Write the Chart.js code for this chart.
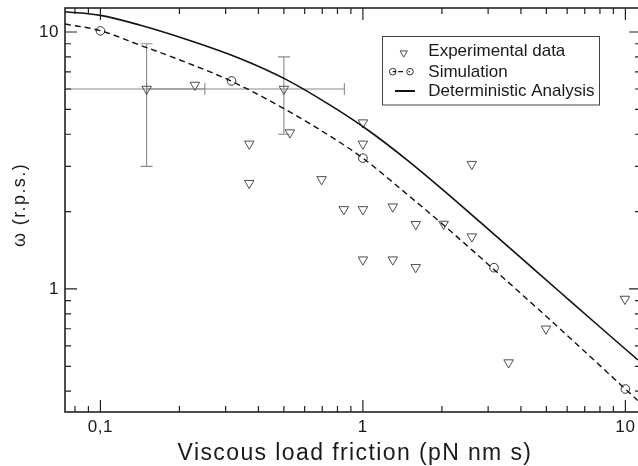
<!DOCTYPE html>
<html>
<head>
<meta charset="utf-8">
<script src="https://cdn.jsdelivr.net/npm/chart.js@4.4.1/dist/chart.umd.min.js"></script>
<style>
html,body{margin:0;padding:0;background:#fff;overflow:hidden;width:638px;height:466px}
canvas{display:block}
</style>
</head>
<body>
<canvas id="c" width="638" height="466"></canvas>
<script>
// ---- data ----
const expX = [0.15, 0.229, 0.369, 0.369, 0.5, 0.527, 0.696, 0.846, 1.0, 1.0, 1.0, 1.0, 1.30, 1.30, 1.59, 1.59, 2.03, 2.60, 2.60, 3.59, 4.98, 9.96];
const expY = [6.0, 6.22, 3.67, 2.58, 6.0, 4.06, 2.67, 2.04, 4.44, 3.67, 2.04, 1.30, 2.09, 1.30, 1.785, 1.214, 1.79, 3.06, 1.598, 0.517, 0.70, 0.914];

const errX     = [0.15, 0.5];
const errY     = [6.0, 6.0];
const errXLow  = [0.05, 0.15];
const errXHigh = [0.25, 0.85];
const errYLow  = [3.0, 4.0];
const errYHigh = [9.0, 8.0];

const simX = [0.1, 0.316, 1.0, 3.16, 10.0];
const simY = [10.1, 6.45, 3.23, 1.21, 0.408];

const simCurveX = [0.0733, 0.1, 0.141, 0.201, 0.314, 0.496, 0.769, 1.0, 1.47, 1.97, 2.62, 3.13, 4.44, 6.31, 9.87, 11.16];
const simCurveY = [10.74, 10.12, 8.90, 7.78, 6.45, 5.06, 3.87, 3.23, 2.34, 1.82, 1.41, 1.20, 0.872, 0.629, 0.413, 0.368];

const detX = [0.0733, 0.1, 0.141, 0.219, 0.34, 0.509, 0.769, 1.063, 1.471, 2.018, 2.791, 3.964, 5.631, 8.0, 11.16];
const detY = [11.99, 11.61, 10.65, 9.27, 7.89, 6.54, 5.11, 4.10, 3.18, 2.43, 1.823, 1.332, 0.973, 0.711, 0.529];

const xRange = [0.0733, 11.17];
const yRange = [0.332, 12.4];
const xTickValues = [0.1, 1, 10];
const xTickLabels = ['0,1', '1', '10'];
const yTickValues = [1, 10];
const yTickLabels = ['1', '10'];

const xTitle = 'Viscous load friction (pN nm s)';
const yTitle = 'ω (r.p.s.)';
const legendLabels = ['Experimental data', 'Simulation', 'Deterministic Analysis'];

// ---- drawing ----
const FONT = '"Liberation Sans", Arial, Helvetica, sans-serif';
const pts = (xs, ys) => xs.map((v, i) => ({x: v, y: ys[i]}));
const labelFor = (vals, labs) => (v) => {
  const i = vals.findIndex(t => Math.abs(t - v) / t < 1e-6);
  return i >= 0 ? labs[i] : '';
};
const noPad = (ax) => {
  ax.paddingTop = 0; ax.paddingBottom = 0; ax.paddingLeft = 0; ax.paddingRight = 0;
  ax.getPadding = () => ({left: 0, top: 0, right: 0, bottom: 0});
};
const fixTicks = (vals, range) => (ax) => {
  ax.ticks = vals.map(v => ({value: v}));
  ax.min = range[0];
  ax.max = range[1];
};

const RIGHT_AXIS_OFFSET = 3; // right frame sits just past the canvas edge

const framePlugin = {
  id: 'frame',
  beforeDraw(chart) {
    chart.ctx.letterSpacing = '0.6px';
  },
  beforeDatasetsDraw(chart) {
    const {ctx, chartArea: a, scales: {x, y}} = chart;
    ctx.save();
    ctx.letterSpacing = '0px';
    ctx.beginPath();
    ctx.rect(a.left, a.top, a.right - a.left, a.bottom - a.top);
    ctx.clip();
    ctx.strokeStyle = '#8a8a8a';
    ctx.lineWidth = 1.1;
    const cap = 6;
    for (let i = 0; i < errX.length; i++) {
      const px = x.getPixelForValue(errX[i]);
      const py = y.getPixelForValue(errY[i]);
      const x0 = x.getPixelForValue(errXLow[i]);
      const x1 = x.getPixelForValue(errXHigh[i]);
      const y0 = y.getPixelForValue(errYLow[i]);
      const y1 = y.getPixelForValue(errYHigh[i]);
      ctx.beginPath();
      ctx.moveTo(x0, py); ctx.lineTo(x1, py);
      ctx.moveTo(x0, py - cap); ctx.lineTo(x0, py + cap);
      ctx.moveTo(x1, py - cap); ctx.lineTo(x1, py + cap);
      ctx.moveTo(px, y0); ctx.lineTo(px, y1);
      ctx.moveTo(px - cap, y0); ctx.lineTo(px + cap, y0);
      ctx.moveTo(px - cap, y1); ctx.lineTo(px + cap, y1);
      ctx.stroke();
    }
    ctx.restore();
  },
  afterDraw(chart) {
    const {ctx, chartArea: a, scales: {x, y}} = chart;
    const R = a.right + RIGHT_AXIS_OFFSET;
    ctx.save();
    ctx.letterSpacing = '0px';
    // frame
    ctx.strokeStyle = '#222';
    ctx.lineWidth = 1.6;
    ctx.strokeRect(a.left, a.top, R - a.left, a.bottom - a.top);
    // inward ticks on all four sides
    ctx.lineWidth = 1.2;
    ctx.beginPath();
    for (let e = -3; e <= 3; e++) {
      for (let m = 1; m <= 9; m++) {
        const v = m * Math.pow(10, e);
        const L = m === 1 ? 12 : 6;
        if (v >= x.min && v <= x.max) {
          const p = x.getPixelForValue(v);
          ctx.moveTo(p, a.bottom); ctx.lineTo(p, a.bottom - L);
          ctx.moveTo(p, a.top); ctx.lineTo(p, a.top + L);
        }
        if (v >= y.min && v <= y.max) {
          const p = y.getPixelForValue(v);
          ctx.moveTo(a.left, p); ctx.lineTo(a.left + L, p);
          ctx.moveTo(R, p); ctx.lineTo(R - L, p);
        }
      }
    }
    ctx.stroke();

    // axis titles
    ctx.fillStyle = '#1a1a1a';
    ctx.textBaseline = 'alphabetic';
    ctx.textAlign = 'center';
    ctx.letterSpacing = '1.4px';
    ctx.font = '23px ' + FONT;
    ctx.fillText(xTitle, 355, 460);
    ctx.save();
    ctx.font = '18px ' + FONT;
    ctx.translate(24.6, (a.top + a.bottom) / 2 - 5);
    ctx.rotate(-Math.PI / 2);
    ctx.fillText(yTitle, 0, 0);
    ctx.restore();

    // legend
    ctx.letterSpacing = '0px';
    const bx = 382.5, by = 36.5, bw = 217, bh = 68.5;
    ctx.fillStyle = '#fff';
    ctx.fillRect(bx, by, bw, bh);
    ctx.strokeStyle = '#444';
    ctx.lineWidth = 1;
    ctx.strokeRect(bx, by, bw, bh);

    // triangle symbol
    ctx.strokeStyle = '#4d4d4d';
    ctx.lineWidth = 1;
    const tx = 403.7, ty = 53, tr = 4.2;
    ctx.beginPath();
    ctx.moveTo(tx, ty + tr);
    ctx.lineTo(tx - tr * 0.866, ty - tr / 2);
    ctx.lineTo(tx + tr * 0.866, ty - tr / 2);
    ctx.closePath();
    ctx.stroke();

    // simulation symbol
    const sy = 71.7;
    ctx.strokeStyle = '#333';
    ctx.beginPath(); ctx.arc(392.7, sy, 3.3, 0, Math.PI * 2); ctx.stroke();
    ctx.beginPath(); ctx.arc(410, sy, 3.3, 0, Math.PI * 2); ctx.stroke();
    ctx.strokeStyle = '#111';
    ctx.lineWidth = 1.3;
    ctx.beginPath();
    ctx.moveTo(392.7, sy); ctx.lineTo(396, sy);
    ctx.moveTo(398.3, sy); ctx.lineTo(403, sy);
    ctx.moveTo(408.6, sy); ctx.lineTo(410, sy);
    ctx.stroke();

    // deterministic symbol
    ctx.lineWidth = 2;
    ctx.beginPath(); ctx.moveTo(395, 91); ctx.lineTo(415, 91); ctx.stroke();

    // legend text
    ctx.fillStyle = '#1a1a1a';
    ctx.textAlign = 'left';
    ctx.font = '17px ' + FONT;
    ctx.fillText(legendLabels[0], 428.3, 56);
    ctx.fillText(legendLabels[1], 428.3, 76.7);
    ctx.fillText(legendLabels[2], 428.3, 96);
    ctx.restore();
  }
};

new Chart(document.getElementById('c'), {
  type: 'scatter',
  data: {
    datasets: [
      {
        label: legendLabels[2],
        data: pts(detX, detY),
        showLine: true,
        borderColor: '#111',
        borderWidth: 1.6,
        pointRadius: 0,
        pointHoverRadius: 0,
        cubicInterpolationMode: 'monotone',
        clip: 0
      },
      {
        label: legendLabels[1] + ' curve',
        data: pts(simCurveX, simCurveY),
        showLine: true,
        borderColor: '#111',
        borderWidth: 1.4,
        borderDash: [6, 4],
        pointRadius: 0,
        pointHoverRadius: 0,
        cubicInterpolationMode: 'monotone',
        clip: 0
      },
      {
        label: legendLabels[1],
        data: pts(simX, simY),
        showLine: false,
        pointStyle: 'circle',
        pointRadius: 4.3,
        pointBorderWidth: 1,
        pointBorderColor: '#333',
        pointBackgroundColor: 'rgba(0,0,0,0)'
      },
      {
        label: legendLabels[0],
        data: pts(expX, expY),
        showLine: false,
        pointStyle: 'triangle',
        pointRotation: 180,
        pointRadius: 5.5,
        pointBorderWidth: 1,
        pointBorderColor: '#4d4d4d',
        pointBackgroundColor: 'rgba(0,0,0,0)'
      }
    ]
  },
  options: {
    responsive: false,
    animation: false,
    events: [],
    layout: {autoPadding: false, padding: {top: 8, left: 0, right: 0, bottom: 0}},
    plugins: {legend: {display: false}, tooltip: {enabled: false}},
    scales: {
      x: {
        type: 'logarithmic',
        bounds: 'data',
        min: xRange[0],
        max: xRange[1],
        afterBuildTicks: fixTicks(xTickValues, xRange),
        afterFit(ax) { ax.height = 54; noPad(ax); },
        grid: {display: false, drawTicks: false},
        border: {display: false},
        ticks: {
          autoSkip: false, maxRotation: 0, minRotation: 0, padding: 5,
          color: '#1a1a1a', font: {family: FONT, size: 17},
          callback: labelFor(xTickValues, xTickLabels)
        }
      },
      y: {
        type: 'logarithmic',
        bounds: 'data',
        min: yRange[0],
        max: yRange[1],
        afterBuildTicks: fixTicks(yTickValues, yRange),
        afterFit(ax) { ax.width = 65; noPad(ax); },
        grid: {display: false, drawTicks: false},
        border: {display: false},
        ticks: {
          autoSkip: false, padding: 6,
          color: '#1a1a1a', font: {family: FONT, size: 17},
          callback: labelFor(yTickValues, yTickLabels)
        }
      }
    }
  },
  plugins: [framePlugin]
});
</script>
</body>
</html>
